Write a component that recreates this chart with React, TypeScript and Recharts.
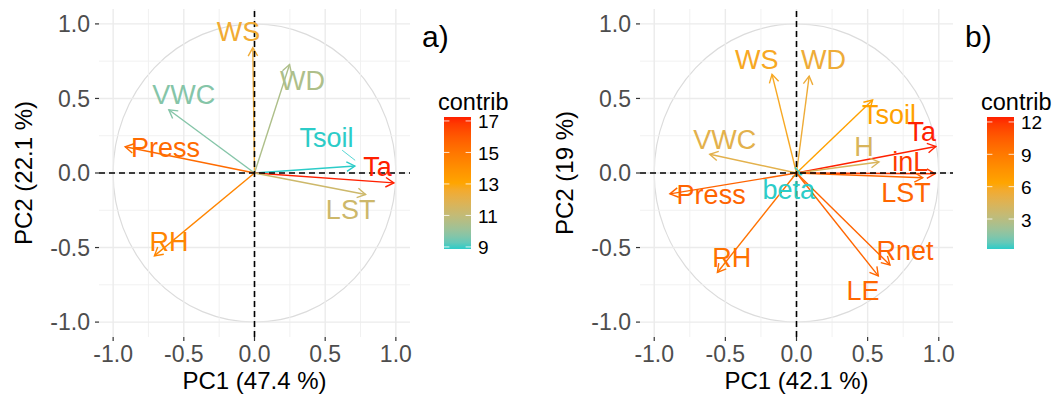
import React from "react";
import { ScatterChart, Scatter, XAxis, YAxis, ReferenceLine, ReferenceArea, Label } from "recharts";

const FONT = "'Liberation Sans', Arial, Helvetica, sans-serif";

// panel a)
const varsA = ["WS", "WD", "VWC", "Press", "Tsoil", "Ta", "LST", "RH"];
const pc1A = [-0.012, 0.248, -0.606, -0.915, 0.71, 0.986, 0.786, -0.708];
const pc2A = [0.84, 0.728, 0.424, 0.176, 0.047, -0.066, -0.144, -0.556];
const contribA = [12.5, 10.5, 9.7, 15.4, 8.87, 17.25, 11.3, 14.4];
const labelXA = [-0.113, 0.34, -0.5, -0.63, 0.51, 0.87, 0.68, -0.605];
const labelYA = [0.943, 0.618, 0.52, 0.166, 0.233, 0.04, -0.25, -0.46];
const legendTicksA = [9, 11, 13, 15, 17];
// ggrepel leader line (Tsoil)
const leaderA = [{ name: "Tsoil", x1: 0.62, y1: 0.153, x2: 0.712, y2: 0.085 }];

// panel b)
const varsB = ["WS", "WD", "Tsoil", "Ta", "H", "inL", "LST", "VWC", "Press", "beta", "RH", "Rnet", "LE"];
const pc1B = [-0.172, 0.089, 0.535, 0.979, 0.58, 0.974, 0.887, -0.61, -0.89, 0.035, -0.556, 0.657, 0.575];
const pc2B = [0.662, 0.65, 0.49, 0.178, 0.074, -0.005, -0.032, 0.126, -0.14, -0.01, -0.667, -0.617, -0.69];
const contribB = [5.9, 5.4, 6.6, 12.46, 4.3, 11.8, 10.0, 4.8, 10.1, 0.22, 9.4, 10.1, 10.0];
const labelXB = [-0.28, 0.19, 0.65, 0.88, 0.474, 0.8, 0.77, -0.505, -0.6, -0.054, -0.455, 0.763, 0.467];
const labelYB = [0.76, 0.76, 0.39, 0.277, 0.176, 0.075, -0.135, 0.223, -0.149, -0.115, -0.567, -0.52, -0.79];
const legendTicksB = [3, 6, 9, 12];

const axisTicks = [-1, -0.5, 0, 0.5, 1];
const gridMajor = [-1, -0.5, 0, 0.5, 1];
const gridMinor = [-0.75, -0.25, 0.25, 0.75];
const gradientCols = ["#2CCCC8", "#FFA500", "#FF2000"];

// ---- colour scale (Lab interpolation like ggplot's gradientn) ----
const toLin = (c: number) => {
  c /= 255;
  return c <= 0.04045 ? c / 12.92 : Math.pow((c + 0.055) / 1.055, 2.4);
};
const fromLin = (c: number) => {
  const v = c <= 0.0031308 ? 12.92 * c : 1.055 * Math.pow(c, 1 / 2.4) - 0.055;
  return Math.round(Math.max(0, Math.min(1, v)) * 255);
};
function hexToLab(hex: string) {
  const r = toLin(parseInt(hex.slice(1, 3), 16));
  const g = toLin(parseInt(hex.slice(3, 5), 16));
  const b = toLin(parseInt(hex.slice(5, 7), 16));
  const X = (r * 0.4124564 + g * 0.3575761 + b * 0.1804375) / 0.95047;
  const Y = r * 0.2126729 + g * 0.7151522 + b * 0.072175;
  const Z = (r * 0.0193339 + g * 0.119192 + b * 0.9503041) / 1.08883;
  const f = (t: number) => (t > 0.008856 ? Math.cbrt(t) : 7.787 * t + 16 / 116);
  const fx = f(X), fy = f(Y), fz = f(Z);
  return [116 * fy - 16, 500 * (fx - fy), 200 * (fy - fz)];
}
function labToHex([L, a, bb]: number[]) {
  const fy = (L + 16) / 116, fx = fy + a / 500, fz = fy - bb / 200;
  const inv = (t: number) => (t * t * t > 0.008856 ? t * t * t : (t - 16 / 116) / 7.787);
  const X = inv(fx) * 0.95047, Y = inv(fy), Z = inv(fz) * 1.08883;
  const r = X * 3.2404542 - Y * 1.5371385 - Z * 0.4985314;
  const g = -X * 0.969266 + Y * 1.8760108 + Z * 0.041556;
  const b = X * 0.0556434 - Y * 0.2040259 + Z * 1.0572252;
  return "#" + [r, g, b].map((c) => fromLin(c).toString(16).padStart(2, "0")).join("");
}
const labCols = gradientCols.map(hexToLab);
function colourAt(t: number) {
  t = Math.max(0, Math.min(1, t));
  const seg = t < 0.5 ? 0 : 1;
  const u = (t - seg * 0.5) / 0.5;
  const a = labCols[seg], b = labCols[seg + 1];
  return labToHex(a.map((v, i) => v + (b[i] - v) * u));
}

type Panel = {
  vars: string[];
  pc1: number[];
  pc2: number[];
  contrib: number[];
  lx: number[];
  ly: number[];
  ticks: number[];
  leaders: { name: string; x1: number; y1: number; x2: number; y2: number }[];
  xTitle: string;
  yTitle: string;
  tag: string;
};

const panelA: Panel = {
  vars: varsA, pc1: pc1A, pc2: pc2A, contrib: contribA, lx: labelXA, ly: labelYA,
  ticks: legendTicksA, leaders: leaderA, xTitle: "PC1 (47.4 %)", yTitle: "PC2 (22.1 %)", tag: "a)",
};
const panelB: Panel = {
  vars: varsB, pc1: pc1B, pc2: pc2B, contrib: contribB, lx: labelXB, ly: labelYB,
  ticks: legendTicksB, leaders: [], xTitle: "PC1 (42.1 %)", yTitle: "PC2 (19 %)", tag: "b)",
};

const arrowShape = (color: string) => (props: any) => {
  const { x1, y1, x2, y2 } = props;
  const ang = Math.atan2(y2 - y1, x2 - x1);
  const len = 9.5;
  const spread = Math.PI / 6;
  const ax = x2 - len * Math.cos(ang - spread);
  const ay = y2 - len * Math.sin(ang - spread);
  const bx = x2 - len * Math.cos(ang + spread);
  const by = y2 - len * Math.sin(ang + spread);
  return (
    <g>
      <line x1={x1} y1={y1} x2={x2} y2={y2} stroke={color} strokeWidth={1.4} />
      <polyline points={`${ax},${ay} ${x2},${y2} ${bx},${by}`} fill="none" stroke={color} strokeWidth={1.4} />
    </g>
  );
};

const renderLabel = (props: any) => {
  const p = props.payload ?? props;
  return (
    <text x={props.cx} y={props.cy} textAnchor="middle" dominantBaseline="central"
      fill={p.color} fontSize={27} fontFamily={FONT}>
      {p.name}
    </text>
  );
};

function ColorBar({ ticks, min, max, left }: { ticks: number[]; min: number; max: number; left: number }) {
  const top = 117, h = 132, w = 27, barX = 6;
  const id = `grad${left}`;
  const stops = Array.from({ length: 21 }, (_, i) => i / 20);
  const yOf = (v: number) => top + ((max - v) / (max - min)) * h;
  return (
    <svg width={90} height={394} style={{ position: "absolute", left, top: 0 }}>
      <defs>
        <linearGradient id={id} x1="0" y1="1" x2="0" y2="0">
          {stops.map((s) => (
            <stop key={s} offset={s} stopColor={colourAt(s)} />
          ))}
        </linearGradient>
      </defs>
      <text x={0} y={110} fontSize={23.5} fontFamily={FONT} fill="#000">contrib</text>
      <rect x={barX} y={top} width={w} height={h} fill={`url(#${id})`} />
      {ticks.map((t) => (
        <g key={t}>
          <line x1={barX} x2={barX + 5.4} y1={yOf(t)} y2={yOf(t)} stroke="#fff" strokeOpacity={0.8} />
          <line x1={barX + w - 5.4} x2={barX + w} y1={yOf(t)} y2={yOf(t)} stroke="#fff" strokeOpacity={0.8} />
          <text x={barX + w + 7} y={yOf(t) + 1} dominantBaseline="central" fontSize={19} fontFamily={FONT} fill="#000">
            {t}
          </text>
        </g>
      ))}
    </svg>
  );
}

function PcaPanel({ panel, left, width, yAxisWidth, rightMargin, tagX }: {
  panel: Panel; left: number; width: number; yAxisWidth: number; rightMargin: number; tagX: number;
}) {
  const min = Math.min(...panel.contrib);
  const max = Math.max(...panel.contrib);
  const cols = panel.contrib.map((c) => colourAt((c - min) / (max - min)));
  const labels = panel.vars.map((name, i) => ({ name, x: panel.lx[i], y: panel.ly[i], color: cols[i] }));
  const tickStyle = { fill: "#4D4D4D", fontSize: 23, fontFamily: FONT };
  return (
    <div style={{ position: "absolute", left, top: 0 }}>
      <ScatterChart width={width} height={394} margin={{ top: 9, right: rightMargin, bottom: 0, left: 0 }}>
        <XAxis type="number" dataKey="x" domain={[-1.1, 1.1]} ticks={axisTicks} allowDataOverflow
          interval={0} tickFormatter={(v: number) => v.toFixed(1)} axisLine={false}
          tickLine={{ stroke: "#333", strokeWidth: 1.2 }} tickSize={4} tickMargin={5} height={57} tick={tickStyle}>
          <Label content={(p: any) => {
            const vb = p.viewBox;
            return (
              <text x={vb.x + vb.width / 2} y={vb.y + 52} textAnchor="middle" fontSize={24} fontFamily={FONT} fill="#000">
                {panel.xTitle}
              </text>
            );
          }} />
        </XAxis>
        <YAxis type="number" dataKey="y" domain={[-1.1, 1.1]} ticks={axisTicks} allowDataOverflow
          interval={0} tickFormatter={(v: number) => v.toFixed(1)} axisLine={false}
          tickLine={{ stroke: "#333", strokeWidth: 1.2 }} tickSize={4} tickMargin={5} width={yAxisWidth} tick={tickStyle}>
          <Label content={(p: any) => {
            const vb = p.viewBox;
            const cx = vb.x + yAxisWidth - 76;
            const cy = vb.y + vb.height / 2;
            return (
              <text x={cx} y={cy} transform={`rotate(-90, ${cx}, ${cy})`} textAnchor="middle" dominantBaseline="central"
                fontSize={24} fontFamily={FONT} fill="#000">
                {panel.yTitle}
              </text>
            );
          }} />
        </YAxis>
        {gridMinor.map((v) => (
          <ReferenceLine key={`mx${v}`} x={v} stroke="#EFEFEF" strokeWidth={0.9} />
        ))}
        {gridMinor.map((v) => (
          <ReferenceLine key={`my${v}`} y={v} stroke="#EFEFEF" strokeWidth={0.9} />
        ))}
        {gridMajor.map((v) => (
          <ReferenceLine key={`gx${v}`} x={v} stroke="#EBEBEB" strokeWidth={1.4} />
        ))}
        {gridMajor.map((v) => (
          <ReferenceLine key={`gy${v}`} y={v} stroke="#EBEBEB" strokeWidth={1.4} />
        ))}
        <ReferenceArea x1={-1} x2={1} y1={-1} y2={1} ifOverflow="visible"
          shape={(p: any) => (
            <ellipse cx={p.x + p.width / 2} cy={p.y + p.height / 2} rx={p.width / 2} ry={p.height / 2}
              fill="none" stroke="#DCDCDC" strokeWidth={1.2} />
          )} />
        {panel.vars.map((name, i) => (
          <ReferenceLine key={`a${name}`} segment={[{ x: 0, y: 0 }, { x: panel.pc1[i], y: panel.pc2[i] }]}
            shape={arrowShape(cols[i])} ifOverflow="visible" />
        ))}
        {panel.leaders.map((s) => (
          <ReferenceLine key={`l${s.name}`} segment={[{ x: s.x1, y: s.y1 }, { x: s.x2, y: s.y2 }]}
            stroke={cols[panel.vars.indexOf(s.name)]} strokeWidth={0.8} ifOverflow="visible" />
        ))}
        <Scatter data={labels} shape={renderLabel} isAnimationActive={false} />
        <ReferenceLine x={0} stroke="#000" strokeDasharray="6 4" strokeWidth={1.6} />
        <ReferenceLine y={0} stroke="#000" strokeDasharray="6 4" strokeWidth={1.6} />
      </ScatterChart>
      <div style={{ position: "absolute", left: tagX, top: 19, fontSize: 30, fontFamily: FONT, color: "#000", lineHeight: "36px" }}>
        {panel.tag}
      </div>
    </div>
  );
}

export default function App() {
  const minA = Math.min(...contribA), maxA = Math.max(...contribA);
  const minB = Math.min(...contribB), maxB = Math.max(...contribB);
  return (
    <div style={{ position: "absolute", left: 0, top: 0, width: 1057, height: 394, background: "#fff", overflow: "hidden" }}>
      <PcaPanel panel={panelA} left={0} width={530} yAxisWidth={99} rightMargin={120} tagX={422} />
      <PcaPanel panel={panelB} left={530} width={527} yAxisWidth={110} rightMargin={104} tagX={435} />
      <ColorBar ticks={legendTicksA} min={minA} max={maxA} left={438} />
      <ColorBar ticks={legendTicksB} min={minB} max={maxB} left={981} />
    </div>
  );
}
